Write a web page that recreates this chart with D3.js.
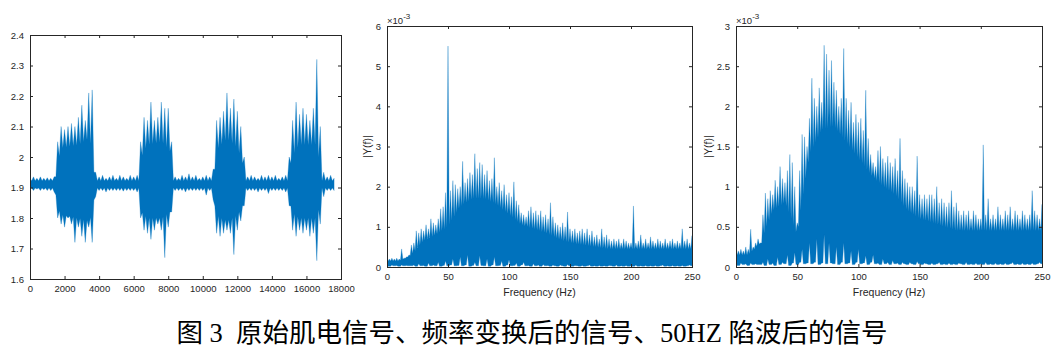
<!DOCTYPE html>
<html>
<head>
<meta charset="utf-8">
<script src="https://cdn.jsdelivr.net/npm/d3@7"></script>
<style>
  body { margin: 0; background: #fff; }
  svg { display: block; }
</style>
</head>
<body>
<svg id="chart" width="1057" height="353"></svg>
<script>
// Raw EMG signal: spike maxima / minima per 200-sample bin
const sampleStep = 200;
const rawHi = [
  1.93, 1.935, 1.93, 1.935, 1.93, 1.932, 1.93, 1.935, 2.05, 2.10,
  2.09, 2.10, 2.11, 2.10, 2.13, 2.17, 2.12, 2.21, 2.22, 1.95,
  1.935, 1.94, 1.93, 1.935, 1.94, 1.93, 1.94, 1.935, 1.93, 1.94,
  1.935, 1.94, 2.05, 2.13, 2.12, 2.18, 2.12, 2.13, 2.18, 2.16,
  2.16, 2.05, 1.935, 1.93, 1.94, 1.935, 1.945, 1.935, 1.94, 1.93,
  1.935, 1.94, 1.935, 1.96, 2.12, 2.13, 2.15, 2.21, 2.16, 2.19,
  2.15, 2.10, 2.00, 1.935, 1.94, 1.935, 1.93, 1.94, 1.935, 1.94,
  1.935, 1.94, 1.93, 1.935, 1.94, 2.00, 2.12, 2.18, 2.14, 2.16,
  2.14, 2.12, 2.16, 2.32, 2.10, 1.95, 1.935, 1.94, 1.93
];
const rawLo = [
  1.895, 1.89, 1.895, 1.89, 1.893, 1.89, 1.89, 1.885, 1.80, 1.78,
  1.77, 1.80, 1.78, 1.72, 1.77, 1.74, 1.72, 1.77, 1.72, 1.87,
  1.89, 1.89, 1.885, 1.89, 1.89, 1.89, 1.89, 1.888, 1.89, 1.89,
  1.89, 1.885, 1.80, 1.76, 1.75, 1.73, 1.76, 1.78, 1.76, 1.67,
  1.77, 1.82, 1.89, 1.89, 1.89, 1.885, 1.89, 1.89, 1.89, 1.89,
  1.89, 1.875, 1.89, 1.86, 1.75, 1.74, 1.75, 1.76, 1.75, 1.68,
  1.76, 1.79, 1.84, 1.89, 1.89, 1.89, 1.885, 1.89, 1.89, 1.88,
  1.89, 1.89, 1.89, 1.89, 1.885, 1.84, 1.76, 1.74, 1.76, 1.75,
  1.76, 1.74, 1.75, 1.66, 1.78, 1.87, 1.89, 1.89, 1.89
];
// solid core of the raw trace (breakpoints in samples)
const rawCoreX   = [0, 1450, 1600, 1900, 2800, 3400, 3650, 3750,
                    6300, 6450, 6800, 7600, 8100, 8300,
                    10600, 10750, 11400, 12000, 12300, 12450,
                    14950, 15150, 15600, 16500, 16800, 16900, 17600];
const rawCoreTop = [1.922, 1.922, 1.99, 2.03, 2.04, 2.06, 2.02, 1.922,
                    1.922, 2.0, 2.04, 2.05, 2.02, 1.922,
                    1.922, 2.02, 2.06, 2.03, 1.98, 1.922,
                    1.922, 2.0, 2.04, 2.04, 1.98, 1.922, 1.922];
const rawCoreBot = [1.898, 1.898, 1.83, 1.81, 1.80, 1.79, 1.82, 1.898,
                    1.898, 1.82, 1.80, 1.80, 1.82, 1.898,
                    1.898, 1.81, 1.79, 1.81, 1.84, 1.898,
                    1.898, 1.82, 1.80, 1.80, 1.84, 1.898, 1.898];

// Spectra (x10^-3): spike maxima / minima per 2 Hz bin, 0..250 Hz
const freqStep = 2;
const fftHi = [
  0.25, 0.2, 0.22, 0.2, 0.22, 0.2, 0.45, 0.22, 0.25, 0.3,
  0.55, 0.6, 0.9, 0.85, 0.95, 0.9, 1.05, 0.95, 1.2, 1.1,
  1.05, 1.2, 1.45, 1.5, 1.85, 5.5, 1.9, 2.15, 2.05, 1.95,
  2.0, 2.63, 2.1, 2.2, 2.35, 2.3, 2.82, 2.45, 2.6, 2.55,
  2.3, 2.4, 2.15, 2.2, 2.72, 2.0, 2.1, 1.9, 2.05, 1.8,
  1.85, 1.75, 2.12, 1.65, 1.55, 1.35, 1.3, 1.25, 1.4, 1.5,
  1.35, 1.4, 1.3, 1.4, 1.25, 1.3, 1.2, 1.6, 1.25, 1.1,
  1.05, 1.0, 1.1, 1.0, 1.37, 0.95, 0.9, 0.95, 0.85, 0.9,
  0.95, 0.85, 0.95, 0.8, 0.9, 0.75, 0.8, 0.7, 0.95, 0.75,
  0.8, 0.7, 0.65, 0.7, 0.65, 0.7, 0.6, 0.7, 0.65, 0.6,
  0.6, 1.52, 0.6, 0.65, 0.8, 0.6, 0.7, 0.6, 0.75, 0.65,
  0.6, 0.7, 0.65, 0.6, 0.7, 0.6, 0.65, 0.7, 0.6, 0.65,
  0.6, 0.95, 0.65, 0.7, 0.6, 0.78
];
const fftLo = [
  0.04, 0.02, 0.05, 0.03, 0.04, 0.02, 0.05, 0.03, 0.04, 0.03,
  0.03, 0.05, 0.02, 0.08, 0.03, 0.04, 0.02, 0.1, 0.03, 0.05,
  0.03, 0.12, 0.02, 0.04, 0.15, 0.03, 0.05, 0.2, 0.03, 0.04,
  0.25, 0.03, 0.05, 0.3, 0.02, 0.04, 0.12, 0.03, 0.28, 0.04,
  0.03, 0.2, 0.02, 0.05, 0.25, 0.03, 0.04, 0.15, 0.02, 0.05,
  0.18, 0.03, 0.04, 0.1, 0.02, 0.05, 0.12, 0.03, 0.04, 0.02,
  0.08, 0.03, 0.05, 0.02, 0.06, 0.03, 0.04, 0.02, 0.05, 0.03,
  0.02, 0.05, 0.03, 0.02, 0.06, 0.03, 0.02, 0.04, 0.03, 0.02,
  0.04, 0.02, 0.03, 0.05, 0.02, 0.03, 0.02, 0.04, 0.02, 0.03,
  0.02, 0.04, 0.03, 0.02, 0.05, 0.02, 0.03, 0.02, 0.04, 0.02,
  0.03, 0.02, 0.05, 0.02, 0.03, 0.02, 0.04, 0.02, 0.03, 0.02,
  0.04, 0.02, 0.03, 0.05, 0.02, 0.03, 0.02, 0.04, 0.02, 0.03,
  0.02, 0.04, 0.02, 0.03, 0.05, 0.03
];
const notchHi = [
  0.27, 0.2, 0.22, 0.2, 0.25, 0.22, 0.47, 0.25, 0.3, 0.35,
  0.3, 0.65, 0.92, 0.85, 0.95, 0.9, 1.08, 1.0, 1.25, 1.1,
  1.05, 1.2, 1.4, 1.3, 1.0, 0.55, 1.2, 1.65, 1.62, 1.5,
  1.85, 2.35, 2.1, 2.0, 2.23, 2.05, 2.76, 2.65, 2.45, 2.57,
  2.3, 2.2, 2.0, 2.1, 2.72, 2.1, 1.95, 2.05, 1.8, 1.9,
  1.8, 1.85, 1.7, 2.2, 1.6, 1.4, 1.3, 1.25, 1.45, 1.5,
  1.35, 1.3, 1.38, 1.3, 1.25, 1.35, 1.2, 1.6, 1.2, 1.1,
  1.05, 1.0, 1.0, 0.95, 1.38, 0.9, 0.85, 0.9, 0.85, 0.9,
  0.9, 0.85, 1.0, 0.8, 0.85, 0.8, 0.75, 0.8, 0.95, 0.75,
  0.8, 0.7, 0.65, 0.7, 0.65, 0.7, 0.6, 0.7, 0.65, 0.6,
  0.6, 1.52, 0.65, 0.85, 0.6, 0.65, 0.6, 0.75, 0.65, 0.6,
  0.7, 0.65, 0.75, 0.6, 0.7, 0.65, 0.6, 0.7, 0.65, 0.6,
  0.65, 0.95, 0.7, 0.65, 0.6, 0.78
];
const notchLo = [
  0.04, 0.02, 0.05, 0.03, 0.04, 0.02, 0.05, 0.03, 0.04, 0.03,
  0.03, 0.06, 0.02, 0.1, 0.03, 0.05, 0.02, 0.12, 0.03, 0.06,
  0.04, 0.15, 0.02, 0.05, 0.18, 0.03, 0.06, 0.22, 0.04, 0.05,
  0.3, 0.04, 0.06, 0.35, 0.03, 0.05, 0.4, 0.04, 0.3, 0.05,
  0.04, 0.25, 0.03, 0.06, 0.3, 0.04, 0.05, 0.2, 0.03, 0.06,
  0.22, 0.04, 0.05, 0.14, 0.03, 0.06, 0.15, 0.04, 0.05, 0.03,
  0.1, 0.04, 0.06, 0.03, 0.08, 0.04, 0.05, 0.03, 0.06, 0.04,
  0.03, 0.06, 0.04, 0.03, 0.07, 0.04, 0.03, 0.05, 0.04, 0.03,
  0.05, 0.03, 0.04, 0.06, 0.03, 0.04, 0.03, 0.05, 0.03, 0.04,
  0.03, 0.05, 0.04, 0.03, 0.06, 0.03, 0.04, 0.03, 0.05, 0.03,
  0.04, 0.03, 0.06, 0.03, 0.04, 0.03, 0.05, 0.03, 0.04, 0.03,
  0.05, 0.03, 0.04, 0.06, 0.03, 0.04, 0.03, 0.05, 0.03, 0.04,
  0.03, 0.05, 0.03, 0.04, 0.06, 0.04
];
// solid core top of the spectra, every 10 Hz
const coreFreqs = [0, 10, 20, 30, 40, 50, 60, 70, 80, 90, 100, 110, 120,
                   130, 140, 150, 160, 170, 180, 190, 200, 210, 220, 230, 240, 250];
const fftCoreTop = [0.15, 0.15, 0.3, 0.65, 0.8, 1.0, 1.5, 1.7, 1.7, 1.55, 1.3, 1.05, 0.95,
                    0.85, 0.7, 0.6, 0.55, 0.5, 0.45, 0.45, 0.45, 0.45, 0.45, 0.45, 0.45, 0.45];
const notchCoreTop = [0.15, 0.15, 0.3, 0.7, 0.8, 0.4, 1.4, 1.7, 1.75, 1.55, 1.35, 1.15, 1.0,
                      0.9, 0.7, 0.6, 0.55, 0.5, 0.45, 0.45, 0.45, 0.45, 0.45, 0.45, 0.45, 0.45];

// Tick labels
const rawXTicks = [0, 2000, 4000, 6000, 8000, 10000, 12000, 14000, 16000, 18000];
const rawYTicks = [1.6, 1.7, 1.8, 1.9, 2.0, 2.1, 2.2, 2.3, 2.4];
const freqTicks = [0, 50, 100, 150, 200, 250];
const fftYTicks = [0, 1, 2, 3, 4, 5, 6];
const notchYTicks = [0, 0.5, 1, 1.5, 2, 2.5, 3];

const caption = '图 3  原始肌电信号、频率变换后的信号、50HZ 陷波后的信号';

const lineColor = '#0072BD';
const axisColor = '#262626';
const svg = d3.select('#chart');
const defs = svg.append('defs');

function drawPanel(id, box, opts) {
  const width = box.right - box.left;
  const height = box.bottom - box.top;
  const g = svg.append('g').attr('transform', `translate(${box.left},${box.top})`);

  const x = d3.scaleLinear().domain(opts.xDomain).range([0, width]);
  const y = d3.scaleLinear().domain(opts.yDomain).range([height, 0]);
  const coreTop = d3.scaleLinear().domain(opts.coreX).range(opts.coreTop).clamp(true);
  const coreBot = opts.coreBot
    ? d3.scaleLinear().domain(opts.coreX).range(opts.coreBot).clamp(true)
    : () => -Infinity;

  defs.append('clipPath').attr('id', 'clip-' + id)
    .append('rect').attr('width', width).attr('height', height);

  // dense trace: spikes at each bin, falling back to the solid core in between
  const pts = [];
  const n = opts.hi.length;
  opts.hi.forEach((h, i) => {
    const xv = i * opts.step;
    pts.push({ x: xv, top: h, bot: opts.lo[i] });
    if (i < n - 1) {
      const xm = xv + opts.step / 2;
      const top = Math.min(coreTop(xm), h, opts.hi[i + 1]);
      const bot = Math.min(Math.max(coreBot(xm), Math.min(opts.lo[i], opts.lo[i + 1])), top);
      pts.push({ x: xm, top: top, bot: bot });
    }
  });

  g.append('path')
    .attr('clip-path', `url(#clip-${id})`)
    .attr('d', d3.area().x(d => x(d.x)).y0(d => y(d.bot)).y1(d => y(d.top))(pts))
    .attr('fill', lineColor)
    .attr('stroke', lineColor)
    .attr('stroke-width', 0.3);

  // axes (ticks point inward, MATLAB box style)
  const fmt = opts.yFormat || (d => String(d));
  const xAxis = g.append('g').attr('transform', `translate(0,${height})`)
    .call(d3.axisBottom(x).tickValues(opts.xTicks).tickSizeInner(-3).tickSizeOuter(0).tickPadding(6).tickFormat(d => String(d)));
  const yAxis = g.append('g')
    .call(d3.axisLeft(y).tickValues(opts.yTicks).tickSizeInner(-3).tickSizeOuter(0).tickPadding(6).tickFormat(fmt));
  const xTop = g.append('g')
    .call(d3.axisTop(x).tickValues(opts.xTicks).tickSizeInner(-3).tickSizeOuter(0).tickFormat(''));
  const yRight = g.append('g').attr('transform', `translate(${width},0)`)
    .call(d3.axisRight(y).tickValues(opts.yTicks).tickSizeInner(-3).tickSizeOuter(0).tickFormat(''));

  [xAxis, yAxis, xTop, yRight].forEach(a => {
    a.select('.domain').remove();
    a.selectAll('line').attr('stroke', axisColor);
    a.selectAll('text')
      .attr('fill', axisColor)
      .style('font-family', '"Liberation Sans", Arial, sans-serif')
      .style('font-size', '9.5px');
  });

  g.append('rect')
    .attr('width', width).attr('height', height)
    .attr('fill', 'none')
    .attr('stroke', axisColor)
    .attr('stroke-width', 1)
    .attr('shape-rendering', 'crispEdges');

  if (opts.xLabel) {
    g.append('text')
      .attr('x', width / 2).attr('y', height + 29)
      .attr('text-anchor', 'middle')
      .attr('fill', axisColor)
      .style('font-family', '"Liberation Sans", Arial, sans-serif')
      .style('font-size', '10.5px')
      .text(opts.xLabel);
  }
  if (opts.yLabel) {
    g.append('text')
      .attr('transform', `translate(${opts.yLabelX},${height / 2}) rotate(-90)`)
      .attr('text-anchor', 'middle')
      .attr('fill', axisColor)
      .style('font-family', '"Liberation Sans", Arial, sans-serif')
      .style('font-size', '10.5px')
      .text(opts.yLabel);
  }
  if (opts.exponent) {
    const t = g.append('text')
      .attr('x', 0).attr('y', -2)
      .attr('fill', axisColor)
      .style('font-family', '"Liberation Sans", Arial, sans-serif')
      .style('font-size', '9.5px');
    t.append('tspan').text('×10');
    t.append('tspan').attr('dy', -5).style('font-size', '8px').text(opts.exponent);
  }
}

drawPanel('raw', { left: 30, top: 35, right: 341, bottom: 279 }, {
  xDomain: [0, 18000], yDomain: [1.6, 2.4],
  hi: rawHi, lo: rawLo, step: sampleStep,
  coreX: rawCoreX, coreTop: rawCoreTop, coreBot: rawCoreBot,
  xTicks: rawXTicks, yTicks: rawYTicks,
  yFormat: d => String(+d.toFixed(1))
});

drawPanel('fft', { left: 387, top: 26, right: 692, bottom: 267 }, {
  xDomain: [0, 250], yDomain: [0, 6],
  hi: fftHi, lo: fftLo, step: freqStep,
  coreX: coreFreqs, coreTop: fftCoreTop,
  xTicks: freqTicks, yTicks: fftYTicks,
  xLabel: 'Frequency (Hz)', yLabel: '|Y(f)|', yLabelX: -16, exponent: '-3'
});

drawPanel('notch', { left: 736, top: 26, right: 1042, bottom: 267 }, {
  xDomain: [0, 250], yDomain: [0, 3],
  hi: notchHi, lo: notchLo, step: freqStep,
  coreX: coreFreqs, coreTop: notchCoreTop,
  xTicks: freqTicks, yTicks: notchYTicks,
  xLabel: 'Frequency (Hz)', yLabel: '|Y(f)|', yLabelX: -24, exponent: '-3'
});

svg.append('text')
  .attr('x', 532).attr('y', 342)
  .attr('text-anchor', 'middle')
  .attr('fill', '#000')
  .style('white-space', 'pre')
  .style('font-family', '"Liberation Serif", "Noto Sans CJK SC", serif')
  .style('font-size', '26.5px')
  .text(caption);
</script>
</body>
</html>
